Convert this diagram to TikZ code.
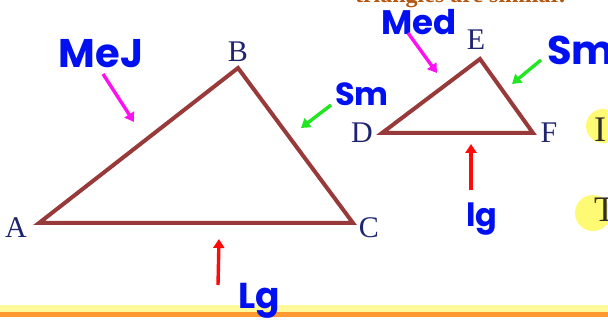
\documentclass[tikz,border=0pt]{standalone}
\usepackage{fontspec}
\setmainfont{Liberation Serif}
\newfontfamily\handfont{Poppins}
\usepackage{tikz}
\usetikzlibrary{arrows.meta, positioning}
\definecolor{tribrown}{HTML}{983A3A}
\definecolor{vertexnavy}{HTML}{1F2470}
\definecolor{inkblue}{HTML}{0010F0}
\definecolor{penmagenta}{HTML}{FF10F0}
\definecolor{pengreen}{HTML}{22E622}
\definecolor{penred}{HTML}{FF0A0A}
\definecolor{hiyellow}{HTML}{FFFA73}
\definecolor{bandyellow}{HTML}{FFF99A}
\definecolor{bandorange}{HTML}{FF9A33}
\definecolor{titlebrown}{HTML}{B5560F}
\tikzset{
  tri_side/.style={draw=tribrown, line width=4pt, line join=miter},
  vertex_label/.style={text=vertexnavy, inner sep=0pt, font=\fontsize{30}{30}\selectfont},
  hand_label/.style={text=inkblue, inner sep=0pt, font=\handfont\bfseries\fontsize{#1}{#1}\selectfont},
  pointer/.style={-{Triangle[length=9pt, width=11pt]}, line width=3.4pt},
  med_arrow/.style={pointer, draw=penmagenta},
  sm_arrow/.style={pointer, draw=pengreen},
  lg_arrow/.style={pointer, draw=penred},
  side_text/.style={text=black!85!olive, inner sep=0pt, font=\fontsize{36}{36}\selectfont}
}

\begin{document}
\begin{tikzpicture}[x=1pt, y=-1pt]

  \useasboundingbox (0,0) rectangle (608,320);
  \clip (0,0) rectangle (608,320);

  % Slide leftovers
  \node[anchor=base, text=titlebrown, font=\bfseries\fontsize{24}{24}\selectfont] (title) at (460,3) {triangles are similar.};
  \fill[bandyellow] (0,305) rectangle (608,312);
  \fill[bandorange] (0,312) rectangle (608,317);
  \fill[hiyellow] (603,126) circle (17);
  \fill[hiyellow] (593,213) circle (18);
  \node[side_text, anchor=west] (bullet_i) at (594,130) {I};
  \node[side_text, anchor=west] (bullet_t) at (594,210) {T};

  % Big triangle
  \coordinate (A) at (39,223);
  \coordinate (B) at (238,68);
  \coordinate (C) at (353,223);
  \draw[tri_side] (A) -- (B) -- (C) -- cycle;
  \node[vertex_label] (lab_a) at (16,228) {A};
  \node[vertex_label] (lab_b) at (238,52) {B};
  \node[vertex_label] (lab_c) at (369,228) {C};

  % Small triangle
  \coordinate (D) at (382,133);
  \coordinate (E) at (480,59);
  \coordinate (F) at (533,133);
  \draw[tri_side] (D) -- (E) -- (F) -- cycle;
  \node[vertex_label] (lab_d) at (362,133) {D};
  \node[vertex_label] (lab_e) at (476,40) {E};
  \node[vertex_label] (lab_f) at (549,133) {F};

  % Handwritten notes
  \node[hand_label=40] (med_big) at (101,54) {MeJ};
  \node[hand_label=32] (sm_big) at (362,94) {Sm};
  \node[hand_label=36] (lg_big) at (259,301) {Lg};
  \node[hand_label=34] (med_small) at (419,22) {Med};
  \node[hand_label=40, anchor=west] (sm_small) at (547,50) {Sm};
  \node[hand_label=32] (lg_small) at (482,219) {lg};

  % Pointers to the sides
  \coordinate (med_big_from) at (103,74);
  \coordinate (med_big_to) at (134,122);
  \coordinate (sm_big_from) at (331,105);
  \coordinate (sm_big_to) at (301,128);
  \coordinate (lg_big_from) at (218,285);
  \coordinate (lg_big_to) at (219,239);
  \coordinate (med_small_from) at (408,33);
  \coordinate (med_small_to) at (437,73);
  \coordinate (sm_small_from) at (541,60);
  \coordinate (sm_small_to) at (512,84);
  \coordinate (lg_small_from) at (471,190);
  \coordinate (lg_small_to) at (471,144);
  \draw[med_arrow] (med_big_from) -- (med_big_to);
  \draw[sm_arrow] (sm_big_from) -- (sm_big_to);
  \draw[lg_arrow] (lg_big_from) -- (lg_big_to);
  \draw[med_arrow] (med_small_from) -- (med_small_to);
  \draw[sm_arrow] (sm_small_from) -- (sm_small_to);
  \draw[lg_arrow] (lg_small_from) -- (lg_small_to);

\end{tikzpicture}
\end{document}
